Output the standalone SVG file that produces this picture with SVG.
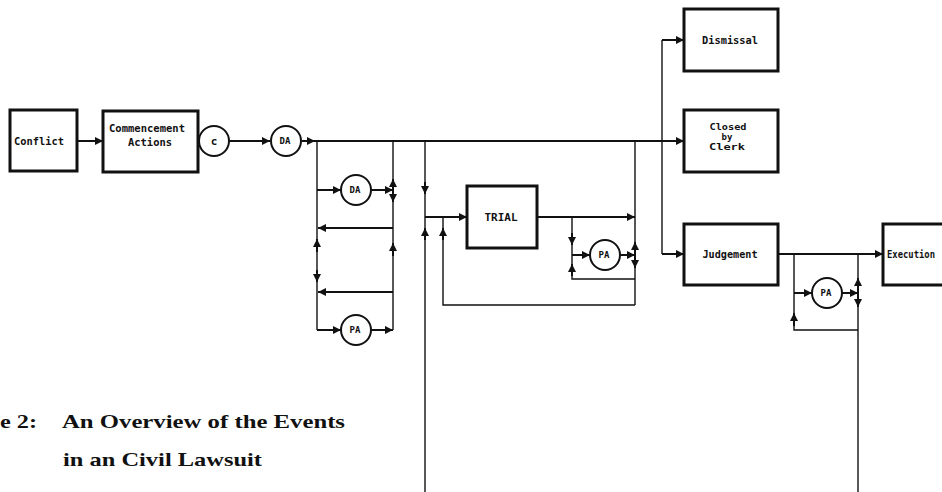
<svg xmlns="http://www.w3.org/2000/svg" width="942" height="492" viewBox="0 0 942 492">
<style>
.box{fill:#fff;stroke:#111;stroke-width:3}
.circ{fill:#fff;stroke:#111;stroke-width:2}
.lbl{font-family:"DejaVu Sans Mono","Liberation Mono",monospace;font-weight:bold;font-size:11px;fill:#111;text-anchor:middle}
.sm{font-size:9px}
.xs{font-size:9px}
.ln{fill:none;stroke:#111;stroke-width:2}
.th{fill:none;stroke:#111;stroke-width:1.4}
.ar{fill:none;stroke:#111;stroke-width:2;marker-end:url(#ah)}
.cap{font-family:"Liberation Serif","Times New Roman",serif;font-weight:bold;font-size:19px;fill:#111}
</style>
<defs>
<marker id="ah" viewBox="0 0 10 10" refX="10" refY="5" markerWidth="9" markerHeight="8" markerUnits="userSpaceOnUse" orient="auto">
<path d="M0,0 L10,5 L0,10 z" fill="#111"/>
</marker>
</defs>
<g id="connectors">
<path class="ar" d="M77,141 H103"/>
<path class="ar" d="M229,141 H270"/>
<path class="ar" d="M302,141 H315"/>
<path class="ar" d="M314,141 H684"/>
<path class="th" d="M317,141 V330"/>
<path class="th" d="M393,141 V330"/>
<path class="ar" d="M317,190 H341"/>
<path class="ar" d="M371,190 H393"/>
<path class="ar" d="M393,190 V179"/>
<path class="ar" d="M393,190 V202"/>
<path class="ar" d="M393,228 H318"/>
<path class="ar" d="M393,256 V243"/>
<path class="ar" d="M317,252 V239"/>
<path class="ar" d="M317,270 V282"/>
<path class="ar" d="M393,292 H318"/>
<path class="ar" d="M317,330 H341"/>
<path class="ar" d="M371,330 H393"/>
<path class="th" d="M425,141 V492"/>
<path class="ar" d="M425,182 V194"/>
<path class="ar" d="M425,240 V228"/>
<path class="ar" d="M425,217 H467"/>
<path class="th" d="M443,217 V305 H635"/>
<path class="ar" d="M443,240 V228"/>
<path class="ar" d="M537,217 H635"/>
<path class="th" d="M635,141 V305"/>
<path class="th" d="M572,217 V279 H635"/>
<path class="ar" d="M572,233 V245"/>
<path class="ar" d="M572,276 V264"/>
<path class="ar" d="M572,255 H590"/>
<path class="ar" d="M620,255 H635"/>
<path class="ar" d="M635,255 V242"/>
<path class="ar" d="M635,255 V268"/>
<path class="th" d="M662,254 V40"/>
<path class="ar" d="M662,40 H684"/>
<path class="ar" d="M662,254 H684"/>
<path class="ar" d="M778,254 H883"/>
<path class="th" d="M794,254 V330 H858"/>
<path class="ar" d="M794,326 V313"/>
<path class="ar" d="M794,293 H812"/>
<path class="ar" d="M842,293 H858"/>
<path class="th" d="M858,254 V492"/>
<path class="ar" d="M858,293 V278"/>
<path class="ar" d="M858,293 V307"/>
</g>
<g id="conflict">
<rect class="box" x="10" y="110" width="67" height="61"/>
<text class="lbl" x="39" y="145" textLength="50" lengthAdjust="spacingAndGlyphs">Conflict</text>
</g>
<g id="commencement">
<rect class="box" x="103" y="111" width="95" height="61"/>
<text class="lbl" x="147" y="132" textLength="76" lengthAdjust="spacingAndGlyphs">Commencement</text>
<text class="lbl" x="150" y="146" textLength="44" lengthAdjust="spacingAndGlyphs">Actions</text>
</g>
<g id="c">
<circle class="circ" cx="214" cy="141" r="15"/>
<text class="lbl" x="214" y="145">c</text>
</g>
<g id="da1">
<circle class="circ" cx="286" cy="141" r="15"/>
<text class="lbl sm" x="285" y="144">DA</text>
</g>
<g id="da2">
<circle class="circ" cx="356" cy="190" r="15"/>
<text class="lbl sm" x="355" y="193">DA</text>
</g>
<g id="pa1">
<circle class="circ" cx="356" cy="330" r="15"/>
<text class="lbl sm" x="355" y="333">PA</text>
</g>
<g id="trial">
<rect class="box" x="467" y="186" width="70" height="62"/>
<text class="lbl" x="501" y="221" textLength="33" lengthAdjust="spacingAndGlyphs">TRIAL</text>
</g>
<g id="pa2">
<circle class="circ" cx="605" cy="255" r="15"/>
<text class="lbl sm" x="604" y="258">PA</text>
</g>
<g id="dismissal">
<rect class="box" x="684" y="9" width="94" height="62"/>
<text class="lbl" x="730" y="44" textLength="56" lengthAdjust="spacingAndGlyphs">Dismissal</text>
</g>
<g id="closed">
<rect class="box" x="684" y="110" width="94" height="62"/>
<text class="lbl xs" x="728" y="130" textLength="37" lengthAdjust="spacingAndGlyphs">Closed</text>
<text class="lbl xs" x="727" y="140">by</text>
<text class="lbl xs" x="727" y="150" textLength="36" lengthAdjust="spacingAndGlyphs">Clerk</text>
</g>
<g id="judgement">
<rect class="box" x="684" y="224" width="94" height="61"/>
<text class="lbl" x="730" y="258" textLength="55" lengthAdjust="spacingAndGlyphs">Judgement</text>
</g>
<g id="pa3">
<circle class="circ" cx="827" cy="293" r="15"/>
<text class="lbl sm" x="826" y="296">PA</text>
</g>
<g id="execution">
<rect class="box" x="883" y="224" width="80" height="61"/>
<text class="lbl" x="887" y="258" style="text-anchor:start" textLength="48" lengthAdjust="spacingAndGlyphs">Execution</text>
</g>
<g id="caption">
<text class="cap" x="0" y="428" textLength="37" lengthAdjust="spacingAndGlyphs">e 2:</text>
<text class="cap" x="62" y="428" textLength="283" lengthAdjust="spacingAndGlyphs">An Overview of the Events</text>
<text class="cap" x="63" y="466" textLength="199" lengthAdjust="spacingAndGlyphs">in an Civil Lawsuit</text>
</g>
</svg>
